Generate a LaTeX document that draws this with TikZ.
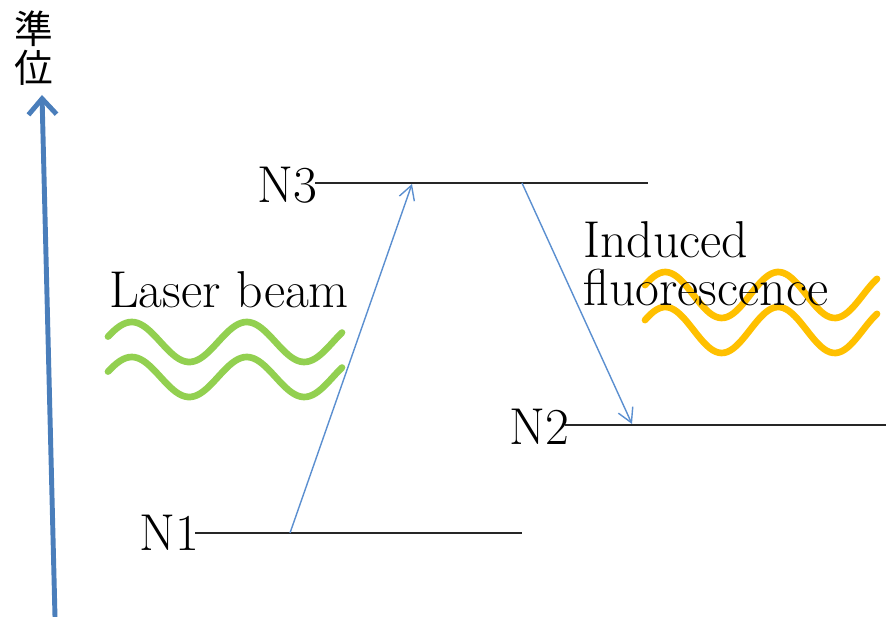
\documentclass[tikz,border=0pt]{standalone}
\usepackage{fontspec}
\newfontfamily\cjk{Noto Sans CJK JP}
\usetikzlibrary{arrows.meta}
\definecolor{axisblue}{HTML}{4A7EBB}
\definecolor{arrowblue}{HTML}{5B8FD0}
\definecolor{lasergreen}{HTML}{92D050}
\definecolor{fluoorange}{HTML}{FFC000}

\begin{document}
\begin{tikzpicture}[x=0.02cm, y=-0.02cm, font=\fontsize{29.5}{27.5}\selectfont,
	level/.style={line width=1.1pt, black!85},
	trans/.style={-{Straight Barb[length=8pt,width=9pt]}, arrowblue, line width=0.8pt},
	wave/.style={line width=3.8pt, line cap=round},
	lbl/.style={inner sep=0pt}]
	
	\useasboundingbox (0,0) rectangle (886,617);
	
	% energy axis
	\coordinate (ax0) at (55,617);
	\coordinate (ax1) at (42,95);
	\draw[axisblue, line width=2.8pt, -{Straight Barb[length=9pt,width=16pt]}] (ax0) -- (ax1);
	\node[lbl, align=center, font=\cjk\fontsize{22}{22}\selectfont] (axlbl) at (34,48) {準\\位};
	
	% levels
	\coordinate (n3a) at (315,183);
	\coordinate (n3b) at (648,183);
	\coordinate (n2a) at (565,425);
	\coordinate (n2b) at (886,425);
	\coordinate (n1a) at (195,533);
	\coordinate (n1b) at (522,533);
	\draw[level] (n3a) -- (n3b);
	\draw[level] (n2a) -- (n2b);
	\draw[level] (n1a) -- (n1b);
	\node[lbl, anchor=east] (n3) at (318,185) {N3};
	\node[lbl, anchor=east] (n2) at (570,427) {N2};
	\node[lbl, anchor=east] (n1) at (200,533) {N1};
	
	% transitions
	\coordinate (up0) at (290,533);
	\coordinate (up1) at (412,184);
	\coordinate (dn0) at (522,183);
	\coordinate (dn1) at (632,424);
	\draw[trans] (up0) -- (up1);
	\draw[trans] (dn0) -- (dn1);
	
	% waves
	\foreach \yc in {342,377}
	\draw[wave, lasergreen] plot[domain=108:342, samples=80, smooth] (\x, {\yc-20*sin(3.1304*(\x-103))});
	\foreach \yc in {295,330}
	\draw[wave, fluoorange] plot[domain=645:877, samples=80, smooth] (\x, {\yc-23*sin(3.1858*(\x-637))});
	
	\node[lbl] (laser) at (229,290) {Laser beam};
	\node[lbl, anchor=west, align=left] (fluo) at (583,264) {Induced\\fluorescence};
\end{tikzpicture}
\end{document}
